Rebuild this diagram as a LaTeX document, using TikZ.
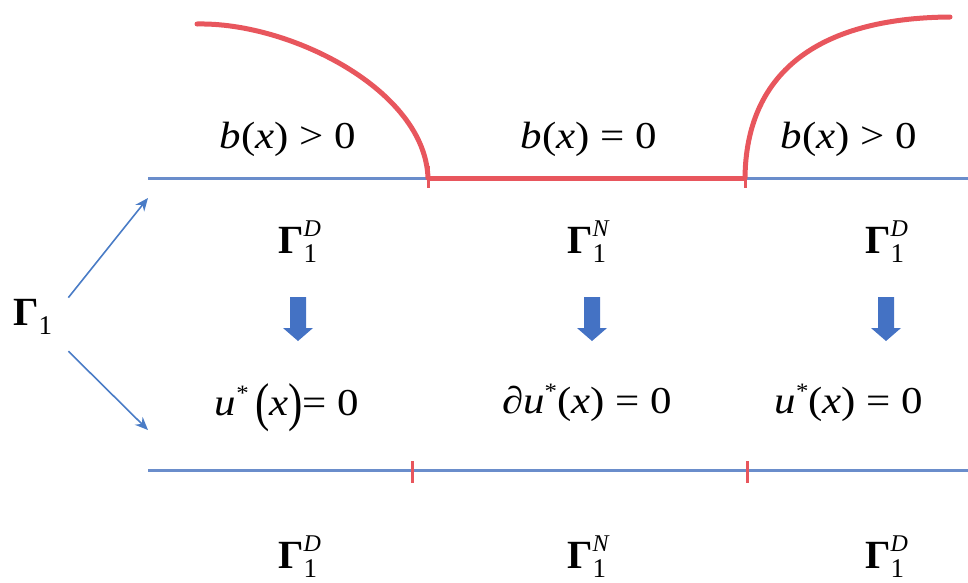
\documentclass[tikz,border=0pt]{standalone}
\usepackage{fontspec}
\setmainfont{Liberation Serif}
\newfontfamily\eqfont[FakeStretch=1.13]{Liberation Serif}
\usetikzlibrary{arrows.meta,calc}
\definecolor{lblue}{HTML}{6A8DCB}
\definecolor{ablue}{HTML}{4A7CC6}
\definecolor{bblue}{HTML}{4472C4}
\definecolor{lred}{HTML}{E8565D}
\newcommand\GamSS[1]{\textbf{Γ}\rlap{\raisebox{17pt}{\fontsize{24}{24}\selectfont\itshape #1}}\raisebox{-9pt}{\fontsize{27}{27}\selectfont 1}}
\newcommand\ust{\textit{u}\raisebox{15pt}{\fontsize{22}{22}\selectfont *}}
\tikzset{
  eq/.style={font={\eqfont\fontsize{38}{44}\selectfont}, inner sep=0, anchor=base},
  gam/.style={font={\fontsize{40}{46}\selectfont}, inner sep=0, anchor=base west},
  conn/.style={ablue, line width=1.6pt, -{Stealth[length=13pt,width=11pt]}},
  bline/.style={lblue, line width=3pt},
  rline/.style={lred, line width=5pt},
  tick/.style={lred, line width=3pt},
  arc/.style={lred, line width=5pt, line cap=round},
  blockarrow/.style={fill=bblue}
}
\begin{document}
\begin{tikzpicture}[x=1pt,y=-1pt]
\useasboundingbox (0,0) rectangle (968,582);
% horizontal lines
\coordinate (tl) at (148,178);
\coordinate (ta) at (428,178);
\coordinate (tb) at (745,178);
\coordinate (tr) at (968,178);
\coordinate (bl) at (148,470);
\coordinate (ba) at (412,470);
\coordinate (bb) at (747,470);
\coordinate (br) at (968,470);
\draw[bline] (tl) -- (ta);
\draw[bline] (tb) -- (tr);
\draw[rline] (ta) -- (tb);
\draw[tick] ($(ta)+(0,-12)$) -- ($(ta)+(0,10)$);
\draw[tick] ($(tb)+(0,-12)$) -- ($(tb)+(0,10)$);
\draw[bline] (bl) -- (br);
\draw[tick] ($(ba)+(0,-9)$) -- ($(ba)+(0,13)$);
\draw[tick] ($(bb)+(0,-9)$) -- ($(bb)+(0,13)$);
% red arcs
\draw[arc] (197,24) .. controls (290,22) and (425,90) .. (ta);
\draw[arc] (tb) .. controls (746,75) and (815,18) .. (950,17);
% labels b(x)
\node[eq] (b1) at (288,148) {\textit{b}(\textit{x}) > 0};
\node[eq] (b2) at (589,148) {\textit{b}(\textit{x}) = 0};
\node[eq] (b3) at (849,148) {\textit{b}(\textit{x}) > 0};
% Gamma top
\node[gam] (g1) at (278,253) {\GamSS{D}};
\node[gam] (g2) at (567,253) {\GamSS{N}};
\node[gam] (g3) at (865,253) {\GamSS{D}};
% block arrows
\foreach \cx in {298,592,886}{
  \fill[blockarrow, shift={(\cx,0)}] (-8,297) -- (8,297) -- (8,328) -- (15,328) -- (0,341) -- (-15,328) -- (-8,328) -- cycle;
}
% u* labels
\node[eq] (u1) at (287,415) {\ust\,\raisebox{-5pt}{\scalebox{1}[1.4]{(}}\textit{x}\raisebox{-5pt}{\scalebox{1}[1.4]{)}}= 0};
\node[eq] (u2) at (587,413) {∂\ust(\textit{x}) = 0};
\node[eq] (u3) at (849,413) {\ust(\textit{x}) = 0};
% Gamma bottom
\node[gam] (h1) at (278,568) {\GamSS{D}};
\node[gam] (h2) at (567,568) {\GamSS{N}};
\node[gam] (h3) at (865,568) {\GamSS{D}};
% Gamma_1 and arrows
\node[gam] (G) at (13,325) {\textbf{Γ}\raisebox{-9pt}{\fontsize{27}{27}\selectfont 1}};
\coordinate (t1) at (148,198);
\coordinate (t2) at (148,430);
\draw[conn] ([xshift=16pt,yshift=1pt]G.north east) -- (t1);
\draw[conn] ([xshift=16pt,yshift=-17pt]G.south east) -- (t2);
\end{tikzpicture}
\end{document}
